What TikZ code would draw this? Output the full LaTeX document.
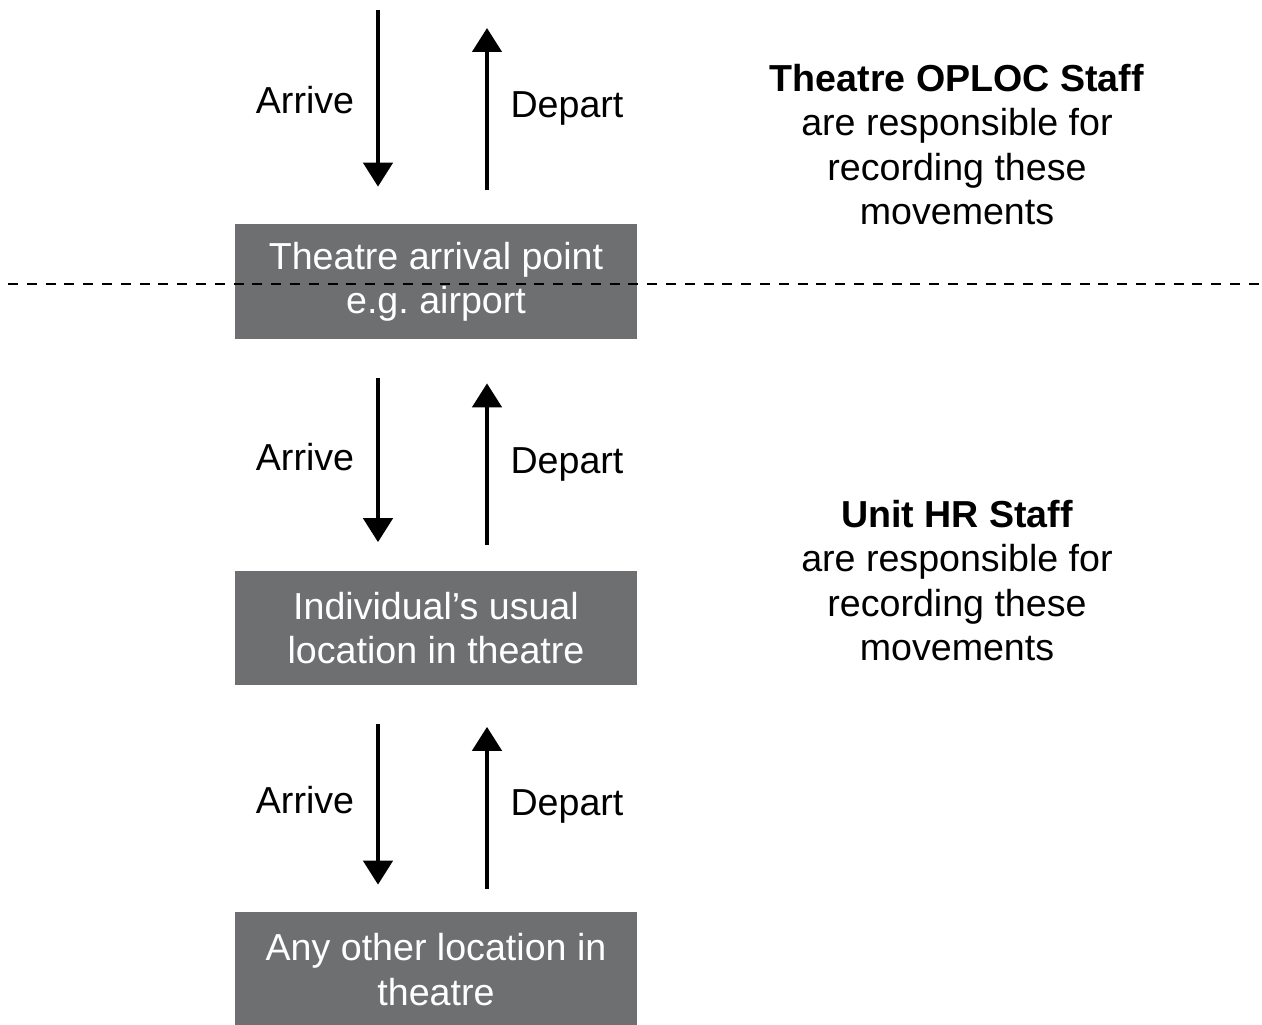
\documentclass[tikz,border=0pt]{standalone}
\usepackage{fontspec}
\setmainfont{Liberation Sans}
\usetikzlibrary{arrows.meta}

\definecolor{boxgrey}{HTML}{6E6F71}
\frenchspacing

\begin{document}
\begin{tikzpicture}[x=0.02cm, y=-0.02cm]

% definitions
\tikzstyle{place} = [rectangle, minimum width=8.04cm, minimum height=2.3cm, inner sep=0pt, text centered, align=center, fill=boxgrey, text=white, font=\fontsize{21.4pt}{25.3pt}\selectfont]

\tikzstyle{move} = [anchor=base, inner sep=0pt, font=\fontsize{21.4pt}{25.3pt}\selectfont]

\tikzstyle{note} = [inner sep=0pt, align=center, font=\fontsize{21.4pt}{25.3pt}\selectfont]

\tikzstyle{arrow} = [line width=2.6pt, -{Triangle[width=0.58cm, length=0.48cm]}]

\useasboundingbox (0,0) rectangle (1262,1025);

% the graph
\node (arrival) [place] at (436,281.5) {Theatre arrival point\\e.g. airport};

\node (usual) [place] at (436,628) {Individual’s usual\\location in theatre};

\node (other) [place] at (436,969.5) {Any other location in\\theatre};

\coordinate (in1) at (378,10);
\coordinate (out1) at (487,28);

\draw [arrow, shorten >=0.74cm] (in1) -- (arrival.north -| in1);
\draw [arrow, shorten <=0.68cm] (arrival.north -| out1) -- (out1);

\draw [arrow, shorten <=0.78cm, shorten >=0.56cm] (arrival.south -| in1) -- (usual.north -| in1);
\draw [arrow, shorten <=0.5cm, shorten >=0.88cm] (usual.north -| out1) -- (arrival.south -| out1);

\draw [arrow, shorten <=0.76cm, shorten >=0.54cm] (usual.south -| in1) -- (other.north -| in1);
\draw [arrow, shorten <=0.46cm, shorten >=0.82cm] (other.north -| out1) -- (usual.south -| out1);

\node (arrive1) [move] at (305,113) {Arrive};
\node (depart1) [move] at (567,117) {Depart};
\node (arrive2) [move] at (305,470) {Arrive};
\node (depart2) [move] at (567,473) {Depart};
\node (arrive3) [move] at (305,813) {Arrive};
\node (depart3) [move] at (567,815) {Depart};

\node (oploc) [note] at (957,144.5) {\textbf{Theatre OPLOC Staff}\\are responsible for\\recording these\\movements};

\node (unithr) [note] at (957,580.5) {\textbf{Unit HR Staff}\\are responsible for\\recording these\\movements};

% boundary
\coordinate (sepL) at (8,284);
\coordinate (sepR) at (1262,284);
\draw [line width=1.5pt, dash pattern=on 5.7pt off 5pt] (sepL) -- (sepR);

\end{tikzpicture}
\end{document}
